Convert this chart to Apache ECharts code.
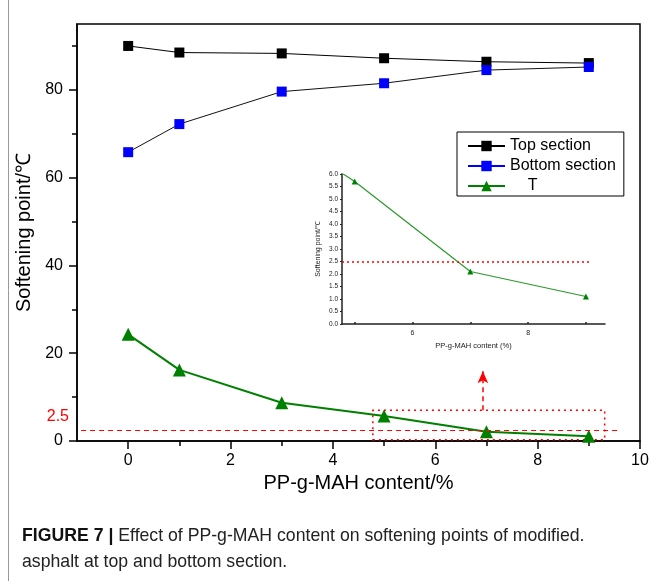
<!DOCTYPE html>
<html>
<head>
<meta charset="utf-8">
<script src="https://cdn.jsdelivr.net/npm/echarts@6/dist/echarts.min.js"></script>
<style>
html,body{margin:0;padding:0;background:#fff;}
#c{width:651px;height:581px;}
</style>
</head>
<body>
<div id="c"></div>
<script>
// ---- data ----
const xValues = [0, 1, 3, 5, 7, 9];
const topSection = [90.0, 88.5, 88.3, 87.2, 86.4, 86.1];
const bottomSection = [65.8, 72.2, 79.6, 81.5, 84.5, 85.2];
const tValues = [24.3, 16.2, 8.7, 5.7, 2.1, 1.1];
const seriesNames = ['Top section', 'Bottom section', 'T'];
const xMajorTicks = [0, 2, 4, 6, 8, 10];
const xMinorTicks = [1, 3, 5, 7, 9];
const yMajorTicks = [0, 20, 40, 60, 80];
const yMinorTicks = [10, 30, 50, 70, 90];
const insetXTicks = [5, 6, 7, 8, 9];
const insetXLabels = [6, 8];
const threshold = 2.5;
const thresholdLabel = '2.5';
const zoomBox = { x0: 4.78, x1: 9.31, y0: 0.3, y1: 7.0 };
const arrowX = 6.93, arrowTop = 15.9;
const thresholdLineEnd = 9.6;
const insetThresholdEnd = 9.1;
const captionBold = 'FIGURE 7 | ';
const captionLine1 = 'Effect of PP-g-MAH content on softening points of modified.';
const captionLine2 = 'asphalt at top and bottom section.';

const pairs = a => xValues.map((x, i) => [x, a[i]]);
const FONT = 'Liberation Sans';

const chart = echarts.init(document.getElementById('c'), null, {renderer: 'canvas'});
const option = {
  animation: false,
  backgroundColor: '#fff',
  textStyle: {fontFamily: FONT},
  grid: [
    {left: 77, right: 11, top: 24, bottom: 140, show: true, borderColor: '#000', borderWidth: 1.5,
     backgroundColor: 'transparent', outerBoundsMode: 'none', containLabel: false},
    {left: 342, right: 46, top: 174, bottom: 257, outerBoundsMode: 'none', containLabel: false}
  ],
  xAxis: [
    {type: 'value', gridIndex: 0, min: -1, max: 10, position: 'bottom',
     splitLine: {show: false},
     axisLine: {show: true, onZero: false, lineStyle: {color: '#000', width: 1.5}},
     axisTick: {show: true, customValues: xMajorTicks, length: 8, lineStyle: {color: '#000', width: 1.5}},
     axisLabel: {customValues: xMajorTicks, fontSize: 16, color: '#000', margin: 12, fontFamily: FONT},
     name: 'PP-g-MAH content/%', nameLocation: 'middle', nameGap: 29,
     nameTextStyle: {fontSize: 20, color: '#000', fontFamily: FONT}},
    {type: 'value', gridIndex: 0, min: -1, max: 10, position: 'bottom',
     splitLine: {show: false},
     axisLine: {show: false, onZero: false},
     axisTick: {show: true, customValues: xMinorTicks, length: 5, lineStyle: {color: '#000', width: 1.5}},
     axisLabel: {show: false}},
    {type: 'value', gridIndex: 1, min: zoomBox.x0, max: 9.33, position: 'bottom',
     splitLine: {show: false},
     axisLine: {show: true, onZero: false, lineStyle: {color: '#222', width: 1.5}},
     axisTick: {show: true, customValues: insetXTicks, inside: true, length: 2, lineStyle: {color: '#222', width: 1.5}},
     axisLabel: {customValues: insetXLabels, fontSize: 7, color: '#222', margin: 6, fontFamily: FONT},
     name: 'PP-g-MAH content (%)', nameLocation: 'middle', nameGap: 18,
     nameTextStyle: {fontSize: 7.5, color: '#222', fontFamily: FONT}}
  ],
  yAxis: [
    {type: 'value', gridIndex: 0, min: 0, max: 95, position: 'left',
     splitLine: {show: false},
     axisLine: {show: true, onZero: false, lineStyle: {color: '#000', width: 1.5}},
     axisTick: {show: true, customValues: yMajorTicks, length: 8, lineStyle: {color: '#000', width: 1.5}},
     axisLabel: {customValues: yMajorTicks, fontSize: 16, color: '#000', margin: 14, fontFamily: FONT},
     name: 'Softening point/\u2103', nameLocation: 'middle', nameGap: 38,
     nameTextStyle: {fontSize: 20, color: '#000', fontFamily: FONT}},
    {type: 'value', gridIndex: 0, min: 0, max: 95, position: 'left', offset: 0,
     splitLine: {show: false},
     axisLine: {show: false, onZero: false},
     axisTick: {show: true, customValues: yMinorTicks, length: 5, lineStyle: {color: '#000', width: 1.5}},
     axisLabel: {show: false}},
    {type: 'value', gridIndex: 1, min: 0, max: 6, interval: 0.5, position: 'left',
     splitLine: {show: false},
     axisLine: {show: true, onZero: false, lineStyle: {color: '#222', width: 1.5}},
     axisTick: {show: true, length: 2, lineStyle: {color: '#222', width: 1}},
     axisLabel: {fontSize: 6.5, color: '#222', margin: 4, fontFamily: FONT,
                 formatter: v => v.toFixed(1)},
     name: 'Softening point/\u2103', nameLocation: 'middle', nameGap: 20,
     nameTextStyle: {fontSize: 7, color: '#222', fontFamily: FONT}}
  ],
  legend: {
    show: true, orient: 'vertical', left: 457, top: 132,
    data: [
      {name: seriesNames[0], lineStyle: {color: '#000'}},
      {name: seriesNames[1], lineStyle: {color: '#0000ff'}},
      {name: seriesNames[2], lineStyle: {color: '#008000'}}
    ],
    backgroundColor: '#fff', borderColor: '#000', borderWidth: 1,
    padding: [6, 8, 2, 10], itemGap: 4, itemWidth: 37, itemHeight: 13,
    textStyle: {fontSize: 16, color: '#000', fontFamily: FONT},
    formatter: n => n === 'T' ? '    T' : n
  },
  series: [
    {name: seriesNames[0], type: 'line', xAxisIndex: 0, yAxisIndex: 0, data: pairs(topSection),
     symbol: 'rect', symbolSize: 10, itemStyle: {color: '#000'},
     lineStyle: {color: '#000', width: 1}},
    {name: seriesNames[1], type: 'line', xAxisIndex: 0, yAxisIndex: 0, data: pairs(bottomSection),
     symbol: 'rect', symbolSize: 10, itemStyle: {color: '#0000ff'},
     lineStyle: {color: '#111', width: 1}},
    {name: seriesNames[2], type: 'line', xAxisIndex: 0, yAxisIndex: 0, data: pairs(tValues),
     symbol: 'triangle', symbolSize: 13, itemStyle: {color: '#008000'},
     lineStyle: {color: '#008000', width: 2},
     markLine: {
       silent: true, symbol: 'none', label: {show: false},
       data: [
         [{coord: [-0.92, threshold], lineStyle: {color: '#ff0000', type: [5, 4], width: 1.2}},
          {coord: [thresholdLineEnd, threshold]}],
         [{coord: [arrowX, zoomBox.y1], symbol: 'none', lineStyle: {color: '#ff0000', type: [5, 4], width: 1.5}},
          {coord: [arrowX, arrowTop], symbol: 'arrow', symbolSize: [8, 12]}]
       ]
     },
     markArea: {
       silent: true, label: {show: false},
       itemStyle: {color: 'rgba(0,0,0,0)', borderColor: '#ff0000', borderType: [2, 4], borderWidth: 1.5},
       data: [[{coord: [zoomBox.x0, zoomBox.y0]}, {coord: [zoomBox.x1, zoomBox.y1]}]]
     }},
    {name: 'T-inset', type: 'line', xAxisIndex: 2, yAxisIndex: 2, data: pairs(tValues),
     symbol: 'triangle', symbolSize: 6, itemStyle: {color: '#008000'}, clip: true,
     lineStyle: {color: '#2a9a2a', width: 1.2},
     markLine: {
       silent: true, symbol: 'none', label: {show: false},
       lineStyle: {color: '#ff0000', type: [2, 3], width: 1.5},
       data: [[{coord: [zoomBox.x0, threshold]}, {coord: [insetThresholdEnd, threshold]}]]
     }}
  ],
  graphic: [
    {type: 'line', shape: {x1: 8.5, y1: 0, x2: 8.5, y2: 581}, style: {stroke: '#999', lineWidth: 1}},
    {type: 'text', left: 22, top: 526, scaleX: 0.93,
     style: {text: '{b|' + captionBold + '}{n|' + captionLine1 + '}',
             rich: {b: {fontSize: 19, fontWeight: 'bold', fill: '#111', fontFamily: FONT},
                    n: {fontSize: 19, fill: '#222', fontFamily: FONT}}}},
    {type: 'text', left: 22, top: 552, scaleX: 0.93,
     style: {text: captionLine2, fontSize: 19, fill: '#222', fontFamily: FONT}}
  ]
};
chart.setOption(option);

// red "2.5" label placed through the axis scale, just left of the y-axis and above the threshold line
const p = chart.convertToPixel({xAxisIndex: 0, yAxisIndex: 0}, [-1, threshold]);
chart.setOption({
  graphic: [
    {type: 'line', shape: {x1: 8.5, y1: 0, x2: 8.5, y2: 581}, style: {stroke: '#999', lineWidth: 1}},
    {type: 'text', left: 22, top: 526, scaleX: 0.93,
     style: {text: '{b|' + captionBold + '}{n|' + captionLine1 + '}',
             rich: {b: {fontSize: 19, fontWeight: 'bold', fill: '#111', fontFamily: FONT},
                    n: {fontSize: 19, fill: '#222', fontFamily: FONT}}}},
    {type: 'text', left: 22, top: 552, scaleX: 0.93,
     style: {text: captionLine2, fontSize: 19, fill: '#222', fontFamily: FONT}},
    {type: 'text', x: p[0] - 8, y: p[1] - 13,
     style: {text: thresholdLabel, fontSize: 16, fill: '#ff0000', fontFamily: FONT,
             align: 'right', verticalAlign: 'middle'}}
  ]
}, {replaceMerge: ['graphic']});
</script>
</body>
</html>
